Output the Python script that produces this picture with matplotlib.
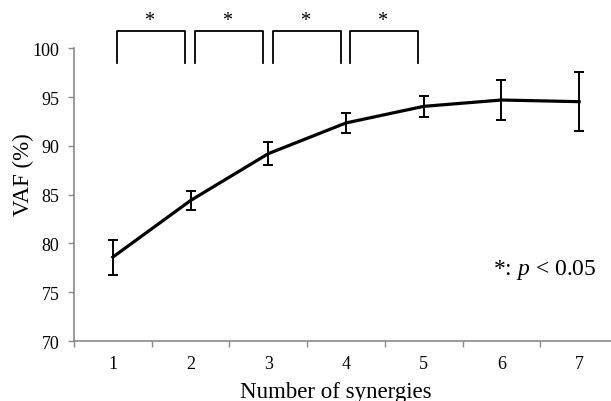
import matplotlib
matplotlib.use("Agg")
import matplotlib.pyplot as plt

plt.rcParams['font.family'] = ['Liberation Serif', 'DejaVu Serif']
plt.rcParams['mathtext.fontset'] = 'custom'
plt.rcParams['mathtext.rm'] = 'Liberation Serif'
plt.rcParams['mathtext.it'] = 'Liberation Serif:italic'

# Data
synergies = [1, 2, 3, 4, 5, 6, 7]
vaf_mean = [78.6, 84.4, 89.2, 92.35, 94.05, 94.7, 94.53]
vaf_err = [1.8, 1.0, 1.2, 1.05, 1.1, 2.1, 3.0]
sig_pairs = [(1, 2), (2, 3), (3, 4), (4, 5)]
yticks = [70, 75, 80, 85, 90, 95, 100]

W, H = 611, 402
fig = plt.figure(figsize=(W / 100, H / 100), dpi=100)
x0, x1 = 74, 618
y0, y1 = 342, 49.3
ax = fig.add_axes([x0 / W, (H - y0) / H, (x1 - x0) / W, (y0 - y1) / H])

axis_col = '#8a8a8a'
ax.errorbar(synergies, vaf_mean, yerr=vaf_err, color='black', lw=2.3,
            elinewidth=1.4, capsize=3.5, capthick=1.4, clip_on=False, zorder=3)

ax.set_xlim(0.5, 7.5)
ax.set_ylim(70, 100)
ax.set_yticks(yticks)
ax.set_xticks(synergies)
ax.set_xticks([i + 0.5 for i in range(0, 8)], minor=True)
ax.tick_params(axis='x', which='major', length=0, pad=10, labelsize=13)
ax.tick_params(axis='x', which='minor', length=4, width=1, color=axis_col, direction='out')
ax.tick_params(axis='y', which='major', length=4, width=1, color=axis_col, pad=6.5, labelsize=13)

for s in ['top', 'right']:
    ax.spines[s].set_visible(False)
for s in ['left', 'bottom']:
    ax.spines[s].set_color(axis_col)
    ax.spines[s].set_linewidth(1.2)

# significance brackets
for a, b in sig_pairs:
    xl, xr = a + 0.055, b - 0.07
    ax.plot([xl, xl, xr, xr], [98.5, 101.75, 101.75, 98.5], color='black',
            lw=1.3, clip_on=False)
    ax.text((a + b) / 2 - 0.03, 102.9, '*', ha='center', va='center',
            fontsize=14.5, clip_on=False)

ax.text(7.22, 76.85, r'*: $\mathit{p}$ < 0.05', ha='right', va='baseline', fontsize=17)

fig.text(336 / W, 1 - 398 / H, 'Number of synergies', ha='center', va='baseline', fontsize=16.5)
fig.text(23 / W, 1 - 175 / H, 'VAF (%)', ha='center', va='center', rotation=90, fontsize=16.5)

fig.savefig('out.png', dpi=100)
